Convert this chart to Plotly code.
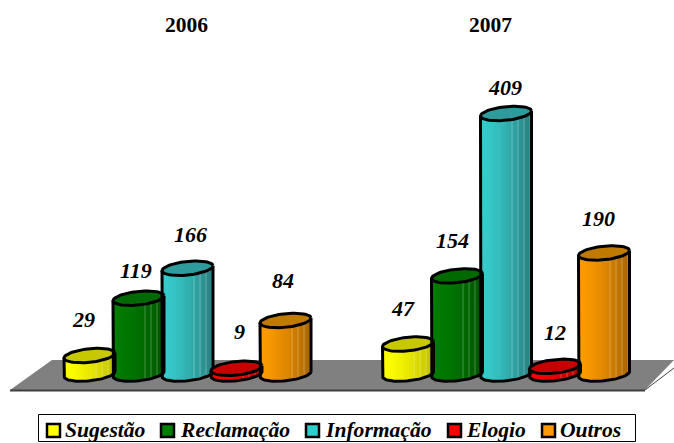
import numpy as np
import plotly.graph_objects as go

W, H = 674, 443
years = ["2006", "2007"]
series = ["Sugestão", "Reclamação", "Informação", "Elogio", "Outros"]
values_2006 = [29, 119, 166, 9, 84]
values_2007 = [47, 154, 409, 12, 190]
group_start = [0, 6.5]

left_colors = [(255, 255, 0), (0, 125, 0), (55, 205, 205), (255, 0, 0), (255, 155, 0)]
right_colors = [(190, 190, 0), (0, 85, 0), (40, 125, 125), (180, 0, 0), (165, 100, 0)]
top_colors = ["#c8c800", "#006a00", "#2e9c9c", "#c80000", "#c07a00"]
swatch_colors = ["#ffff00", "#007f00", "#33cccc", "#ff0000", "#ff9900"]

# label offsets (px) relative to top of cylinder
label_dx = [[-6, -3, 3, 3, -3], [-5, -5, -1, 0, -6]]
label_dy = [[36, 28, 34, 37, 40], [36, 35, 26, 34, 34]]
legend_swatch_px = [46, 160, 305, 447, 541]
legend_text_px = [65, 180, 325, 466, 560]

PX_X, X0 = 49.0, 89.5
PX_Y, Y0 = 0.637, 374.0
A = 25.5 / PX_X          # half width, x units
B = 6.8 / PX_Y           # ellipse half height, value units
K = 2.5 / PX_Y           # ellipse tilt
N = 25
u = (np.arange(N) + 0.5) / N * 2 - 1
strip_w = 2 * A / N
theta = np.linspace(0, 2 * np.pi, 73)
LW = 3

fig = go.Figure()


def strip_color(i, j):
    f = (u[j] + 1) / 2
    l, r = np.array(left_colors[i]), np.array(right_colors[i])
    c = l + (r - l) * f**1.5
    if j > N * 0.55 and j % 3 == 0:
        c = c + (255 - c) * 0.14
    return "rgb(%d,%d,%d)" % tuple(c)


# strips: one bar trace per series
for i, name in enumerate(series):
    xs, ys, bs, cs = [], [], [], []
    for g, vals in enumerate([values_2006, values_2007]):
        cx = group_start[g] + i
        for j in range(N):
            low = -B * np.sqrt(1 - u[j] ** 2) + K * u[j]
            xs.append(cx + u[j] * A)
            bs.append(low)
            ys.append(vals[i] + K * u[j] - low)
            cs.append(strip_color(i, j))
    fig.add_trace(go.Bar(x=xs, y=ys, base=bs, width=strip_w, name=name,
                         marker=dict(color=cs, line=dict(width=0)),
                         showlegend=False, hoverinfo="skip"))

# outlines and tops
for g, vals in enumerate([values_2006, values_2007]):
    for i, v in enumerate(vals):
        cx = group_start[g] + i
        t = np.linspace(np.pi, 2 * np.pi, 37)
        lx = cx + A * np.cos(t)
        ly = B * np.sin(t) + K * np.cos(t)
        px = np.concatenate([[cx - A], lx, [cx + A]])
        py = np.concatenate([[v - K], ly, [v + K]])
        fig.add_trace(go.Scatter(x=px, y=py, mode="lines", showlegend=False,
                                 line=dict(color="black", width=LW), hoverinfo="skip"))
        fig.add_trace(go.Scatter(x=cx + A * np.cos(theta),
                                 y=v + B * np.sin(theta) + K * np.cos(theta),
                                 mode="lines", fill="toself", fillcolor=top_colors[i],
                                 line=dict(color="black", width=LW),
                                 showlegend=False, hoverinfo="skip"))
        fig.add_annotation(x=cx, y=v, xref="x", yref="y", text="<b><i>%d</i></b>" % v,
                           showarrow=False, xanchor="center", yanchor="middle",
                           xshift=label_dx[g][i], yshift=label_dy[g][i],
                           font=dict(family="Liberation Serif", size=22, color="black"))

shapes = []


def pxx(p):
    return p / W


def pxy(p):
    return 1 - p / H


# floor
shapes.append(dict(type="path", xref="paper", yref="paper", layer="below",
                   path="M %f,%f L %f,%f L %f,%f L %f,%f Z" % (
                       pxx(10), pxy(390), pxx(52), pxy(360), pxx(674), pxy(360), pxx(645), pxy(390)),
                   fillcolor="#808080", line=dict(width=0)))
shapes.append(dict(type="line", xref="paper", yref="paper", layer="below",
                   x0=pxx(10), y0=pxy(390.5), x1=pxx(645), y1=pxy(390.5),
                   line=dict(color="#404040", width=2)))
shapes.append(dict(type="line", xref="paper", yref="paper", layer="below",
                   x0=pxx(645), y0=pxy(390), x1=pxx(674), y1=pxy(368),
                   line=dict(color="#404040", width=1)))
# legend box
shapes.append(dict(type="rect", xref="paper", yref="paper", layer="below",
                   x0=pxx(38.5), y0=pxy(441.5), x1=pxx(635.5), y1=pxy(414.5),
                   fillcolor="white", line=dict(color="black", width=1)))
for i, name in enumerate(series):
    sx = legend_swatch_px[i]
    shapes.append(dict(type="rect", xref="paper", yref="paper",
                       x0=pxx(sx + 1), x1=pxx(sx + 14), y0=pxy(437), y1=pxy(424),
                       fillcolor=swatch_colors[i], line=dict(color="black", width=2.5)))
    fig.add_annotation(x=pxx(legend_text_px[i]), y=pxy(430), xref="paper", yref="paper",
                       text="<b><i>%s</i></b>" % name, showarrow=False, xanchor="left",
                       yanchor="middle", xshift=-2,
                       font=dict(family="Liberation Serif", size=21.6, color="black"))

for yr, px_c in zip(years, [186, 490]):
    fig.add_annotation(x=pxx(px_c), y=pxy(25), xref="paper", yref="paper",
                       text="<b>%s</b>" % yr, showarrow=False, xanchor="center", yanchor="middle",
                       font=dict(family="Liberation Serif", size=21.5, color="black"))

fig.update_layout(
    width=W, height=H, margin=dict(l=0, r=0, t=0, b=0),
    paper_bgcolor="white", plot_bgcolor="rgba(0,0,0,0)",
    barmode="overlay", bargap=0, showlegend=False, shapes=shapes,
    xaxis=dict(range=[-X0 / PX_X, (W - X0) / PX_X], visible=False),
    yaxis=dict(range=[(Y0 - H) / PX_Y, Y0 / PX_Y], visible=False),
)
fig.write_html("out.html", config={"displayModeBar": False},
               post_script="document.body.style.margin='0';document.body.style.overflow='hidden';")
